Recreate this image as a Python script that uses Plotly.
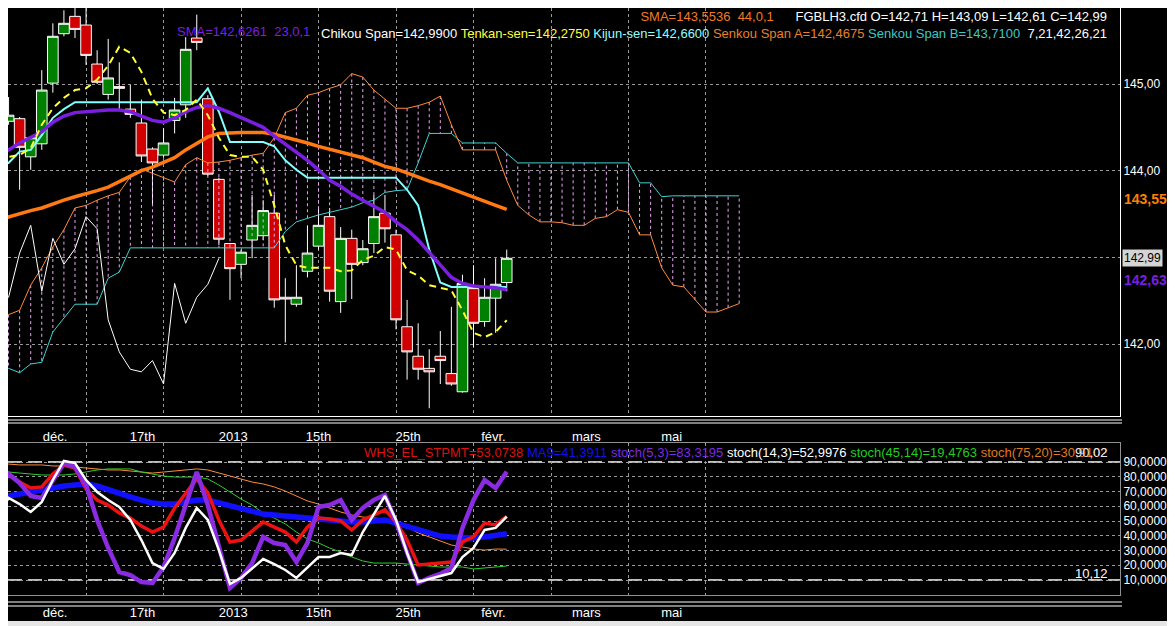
import plotly.graph_objects as go

# ---- FGBLH3 daily bars (index 0 = left edge of the screen) ----
opens = [144.47, 144.57, 144.60, 144.16, 144.31, 145.01, 145.58, 145.78, 145.68, 145.23,
         144.88, 144.97, 144.71, 144.55, 144.25, 144.18, 144.58, 144.76, 145.53, 144.83,
         143.90, 143.16, 142.92, 143.20, 143.25, 143.51, 142.54, 142.46, 142.84, 143.13,
         143.47, 142.49, 143.22, 142.94, 143.16, 143.51, 143.26, 142.20, 141.86, 141.72,
         141.86, 141.66, 141.45, 142.64, 142.26, 142.53, 142.71]
highs = [144.70, 144.85, 144.62, 144.40, 145.16, 145.70, 145.85, 146.00, 145.93, 145.39,
         145.52, 145.25, 144.99, 144.82, 144.27, 144.49, 144.84, 145.54, 145.80, 144.87,
         143.92, 143.16, 143.09, 143.72, 143.66, 143.72, 142.76, 142.91, 143.37, 143.58,
         143.57, 143.35, 143.32, 143.20, 143.72, 143.72, 143.32, 142.51, 142.24, 141.94,
         142.15, 142.43, 142.80, 142.91, 142.76, 142.99, 143.09]
lows = [144.41, 144.53, 143.78, 144.01, 144.24, 144.90, 145.55, 145.53, 145.22, 145.00,
        144.82, 144.70, 144.61, 144.10, 143.60, 144.15, 144.43, 144.61, 145.39, 143.94,
        143.14, 142.51, 142.76, 142.99, 143.20, 142.42, 142.02, 142.43, 142.77, 143.09,
        142.49, 142.36, 142.52, 142.91, 143.05, 143.17, 142.17, 141.59, 141.59, 141.26,
        141.54, 141.52, 141.44, 141.96, 142.20, 142.13, 142.61]
closes = [144.62, 144.64, 144.27, 144.38, 144.93, 145.55, 145.70, 145.63, 145.33, 145.02,
          145.07, 144.95, 144.65, 144.17, 144.09, 144.32, 144.70, 145.40, 145.48, 143.96,
          143.21, 142.87, 143.06, 143.37, 143.54, 142.51, 142.52, 142.54, 143.05, 143.37,
          142.61, 143.22, 142.92, 143.10, 143.47, 143.33, 142.28, 141.91, 141.71, 141.68,
          141.81, 141.54, 142.70, 142.24, 142.54, 142.69, 142.99]

tenkan = [144.15, 144.16, 144.18, 144.26, 144.53, 144.72, 144.84, 144.93, 144.95, 145.05,
          145.21, 145.43, 145.36, 145.14, 144.83, 144.67, 144.64, 144.70, 144.82, 144.64,
          144.38, 144.18, 144.16, 144.16, 144.01, 143.60, 143.14, 142.91, 142.88, 142.88,
          142.88, 142.84, 142.85, 142.97, 143.02, 143.12, 143.09, 142.85, 142.79, 142.68,
          142.65, 142.62, 142.39, 142.13, 142.08, 142.14, 142.275]
kijun = [144.09, 144.09, 144.22, 144.24, 144.41, 144.61, 144.71, 144.79, 144.79, 144.79,
         144.79, 144.79, 144.79, 144.79, 144.79, 144.79, 144.79, 144.79, 144.79, 144.95,
         144.68, 144.33, 144.33, 144.33, 144.33, 144.28, 144.12, 144.01, 143.92, 143.92,
         143.92, 143.92, 143.92, 143.92, 143.92, 143.92, 143.92, 143.78, 143.60, 143.09,
         142.71, 142.66, 142.66, 142.66, 142.66, 142.66, 142.66]
sma23 = [144.19, 144.24, 144.32, 144.38, 144.45, 144.56, 144.63, 144.67, 144.68, 144.69,
         144.70, 144.70, 144.68, 144.63, 144.58, 144.56, 144.61, 144.68, 144.73, 144.75,
         144.72, 144.67, 144.61, 144.56, 144.50, 144.40, 144.31, 144.22, 144.12, 144.01,
         143.89, 143.82, 143.73, 143.66, 143.59, 143.52, 143.41, 143.32, 143.20, 143.06,
         142.91, 142.77, 142.70, 142.67, 142.66, 142.65, 142.6261]
sma44 = [143.43, 143.47, 143.50, 143.54, 143.57, 143.62, 143.66, 143.70, 143.73, 143.77,
         143.81, 143.87, 143.94, 144.00, 144.04, 144.09, 144.15, 144.24, 144.32, 144.39,
         144.43, 144.44, 144.44, 144.44, 144.44, 144.42, 144.39, 144.35, 144.32, 144.28,
         144.25, 144.22, 144.18, 144.15, 144.10, 144.05, 144.02, 143.97, 143.93, 143.88,
         143.84, 143.79, 143.74, 143.70, 143.65, 143.60, 143.5536]
# spans are plotted 21 bars ahead, so they run past the last candle
senkou_a = [142.30, 142.34, 142.39, 142.68, 142.88, 143.12, 143.32, 143.57, 143.60, 143.66,
            143.71, 143.75, 143.93, 144.02, 143.97, 143.92, 143.87, 144.07, 144.15, 144.09,
            144.10, 144.12, 144.15, 144.18, 144.20, 144.38, 144.67, 144.72, 144.87, 144.90,
            144.95, 144.99, 145.12, 145.08, 144.93, 144.82, 144.72, 144.72, 144.75, 144.79,
            144.86, 144.53, 144.24, 144.24, 144.24, 144.24, 143.89, 143.60, 143.49, 143.41,
            143.41, 143.40, 143.37, 143.37, 143.45, 143.47, 143.55, 143.52, 143.26, 143.26,
            142.88, 142.68, 142.66, 142.51, 142.37, 142.37, 142.42, 142.4675]
senkou_b = [141.72, 141.72, 141.67, 141.77, 141.79, 142.14, 142.30, 142.46, 142.46, 142.46,
            142.76, 142.83, 143.11, 143.11, 143.11, 143.11, 143.11, 143.11, 143.11, 143.11,
            143.11, 143.11, 143.11, 143.11, 143.11, 143.11, 143.30, 143.41, 143.45, 143.49,
            143.52, 143.55, 143.58, 143.63, 143.66, 143.75, 143.77, 143.78, 144.09, 144.43,
            144.43, 144.43, 144.32, 144.32, 144.32, 144.32, 144.20, 144.09, 144.09, 144.09,
            144.09, 144.09, 144.09, 144.09, 144.09, 144.09, 144.09, 144.09, 143.86, 143.86,
            143.70, 143.71, 143.71, 143.71, 143.71, 143.71, 143.71, 143.71]
chikou_shift = 26

# ---- oscillator panel ----
whs = [81.2, 81.2, 76.4, 72.4, 73.1, 81.9, 88.0, 85.9, 71.7, 64.2,
       60.8, 55.4, 52.0, 46.6, 42.5, 45.9, 58.8, 69.0, 78.5, 69.0,
       50.7, 35.8, 37.1, 43.2, 49.3, 45.9, 42.5, 35.8, 45.9, 52.0,
       51.4, 50.0, 43.9, 50.7, 54.1, 57.5, 49.3, 37.1, 20.2, 20.8,
       21.5, 22.2, 35.8, 39.2, 48.6, 47.3, 53.0738]
ma9 = [65.6, 66.9, 69.0, 70.3, 71.0, 72.4, 73.7, 74.4, 75.1, 73.7,
       71.0, 69.0, 66.3, 64.2, 62.2, 61.5, 61.5, 62.9, 64.2, 64.2,
       62.2, 60.2, 58.1, 56.1, 54.7, 54.1, 53.4, 52.0, 51.4, 50.7,
       50.0, 49.3, 49.3, 49.3, 50.0, 50.7, 48.6, 46.6, 44.6, 42.5,
       39.8, 39.2, 38.5, 38.5, 39.2, 40.5, 41.3911]
stoch_5_3 = [70.3, 81.9, 75.8, 67.0, 65.6, 77.8, 89.3, 86.6, 74.4, 50.7,
             31.7, 15.4, 13.4, 8.6, 8.0, 18.8, 38.5, 60.8, 83.2, 60.8,
             31.7, 4.6, 11.4, 21.5, 39.2, 35.1, 33.7, 22.2, 35.1, 59.5,
             60.8, 64.2, 50.7, 58.8, 64.2, 67.6, 49.3, 29.0, 8.0, 11.4,
             14.1, 18.1, 45.3, 64.2, 77.8, 72.4, 83.3195]
stoch_14_3 = [52.0, 65.6, 61.5, 56.1, 62.9, 77.8, 90.7, 89.3, 77.8, 69.7,
              64.2, 59.5, 50.7, 37.1, 21.5, 17.5, 28.3, 45.3, 58.8, 50.7,
              30.3, 7.3, 11.4, 18.1, 24.2, 20.8, 16.8, 11.4, 18.8, 25.6,
              25.6, 28.3, 26.9, 42.5, 54.7, 67.0, 50.7, 28.3, 8.6, 10.7,
              12.7, 14.7, 25.6, 31.7, 43.9, 45.3, 52.9976]
stoch_45_14 = [84.6, 83.2, 82.5, 81.9, 81.2, 81.2, 81.2, 81.9, 83.2, 84.6,
               85.3, 85.3, 85.3, 83.2, 81.9, 80.5, 79.8, 79.8, 79.8, 78.5,
               74.4, 69.7, 64.9, 60.8, 55.4, 52.0, 48.0, 42.5, 37.8, 35.1,
               31.7, 29.0, 25.6, 22.9, 21.5, 21.5, 21.5, 20.8, 20.2, 19.5,
               18.8, 18.8, 18.8, 17.5, 18.1, 18.8, 19.4763]
stoch_75_20 = [88.6, 88.6, 88.0, 88.0, 88.0, 87.3, 87.3, 86.6, 85.9, 85.3,
               84.6, 84.6, 83.9, 83.2, 82.5, 83.2, 83.9, 84.6, 85.3, 84.6,
               82.5, 80.5, 78.5, 76.4, 75.1, 73.1, 70.3, 67.0, 63.6, 61.5,
               58.8, 56.1, 54.1, 52.7, 52.0, 51.4, 50.0, 45.9, 41.9, 39.2,
               36.4, 33.7, 32.4, 31.0, 30.3, 31.0, 30.9102]

# ---- axis labels ----
x_labels = ['déc.', '17th', '2013', '15th', '25th', 'févr.', 'mars', 'mai']
x_label_pos = [5.2, 13.1, 21.3, 29.0, 37.1, 44.8, 53.2, 60.9]
week_lines = [1, 8, 15, 22, 29, 36, 43, 50, 57, 64]
price_ticks = [142, 143, 144, 145]
osc_ticks = [10, 20, 30, 40, 50, 60, 70, 80, 90]

FONT = 'Liberation Sans, Arial, sans-serif'
OFF = 8  # the page body adds 8px of margin around the figure
W, H = 1175 - OFF, 626 - OFF


def fr(v, d):
    return f'{v:.{d}f}'.replace('.', ',')


# screen pixel -> paper fraction
def px(x):
    return (x - OFF) / W


def py(y):
    return 1 - (y - OFF) / H


bars = list(range(len(closes)))
ahead = list(range(len(senkou_a)))

# cloud hatching: one dashed vertical per bar between the two spans
hx, hy = [], []
for i, (a, b) in enumerate(zip(senkou_a, senkou_b)):
    hx += [i, i, None]
    hy += [a, b, None]

fig = go.Figure()
fig.add_trace(go.Scatter(x=hx, y=hy, mode='lines', line=dict(color='#e8a8f0', width=1, dash='3px,3px')))
fig.add_trace(go.Scatter(x=ahead, y=senkou_b, mode='lines', line=dict(color='#3fd3d3', width=1)))
fig.add_trace(go.Scatter(x=ahead, y=senkou_a, mode='lines', line=dict(color='#ff8a3d', width=1)))
fig.add_trace(go.Scatter(x=bars[:len(closes) - chikou_shift], y=closes[chikou_shift:], mode='lines',
                         line=dict(color='white', width=1)))
fig.add_trace(go.Candlestick(x=bars, open=opens, high=highs, low=lows, close=closes,
                             increasing=dict(fillcolor='#008000', line=dict(color='white', width=1)),
                             decreasing=dict(fillcolor='#d00000', line=dict(color='white', width=1)),
                             whiskerwidth=0))
fig.add_trace(go.Scatter(x=bars, y=sma44, mode='lines', line=dict(color='#ff7a12', width=3.5)))
fig.add_trace(go.Scatter(x=bars, y=kijun, mode='lines', line=dict(color='#80ffff', width=2)))
fig.add_trace(go.Scatter(x=bars, y=sma23, mode='lines', line=dict(color='#7a1fe0', width=3.5)))
fig.add_trace(go.Scatter(x=bars, y=tenkan, mode='lines', line=dict(color='#ffff33', width=2, dash='7px,5px')))

# lower panel
for vals, col, w in [(stoch_75_20, '#ff8a3d', 1), (stoch_45_14, '#2ecc2e', 1), (ma9, '#1010ff', 5.5),
                     (whs, '#ee1111', 3.5), (stoch_5_3, '#8a2be2', 4.5), (stoch_14_3, 'white', 2.5)]:
    fig.add_trace(go.Scatter(x=bars, y=vals, mode='lines', line=dict(color=col, width=w),
                             xaxis='x2', yaxis='y2'))

# one bar = 11.07 px, bar 0 sits at screen x = -2.5
xr = [(OFF + 2.5) / 11.07, (1120 + 2.5) / 11.07]
grid = dict(showgrid=True, gridcolor='#9a9a9a', griddash='3px,3px', gridwidth=1)
xcommon = dict(range=xr, domain=[0, px(1120)], tickmode='array', tickvals=x_label_pos, ticktext=x_labels,
               showgrid=False, zeroline=False, ticks='outside', tickcolor='rgba(0,0,0,0)',
               tickfont=dict(color='white', size=13, family=FONT), fixedrange=True,
               minor=dict(tickvals=week_lines, showgrid=True, gridcolor='#9a9a9a', griddash='3px,3px'))

# price scale: 145 at y=84, 86.7 px per point
fig.update_layout(
    width=W, height=H, margin=dict(l=0, r=0, t=0, b=0),
    paper_bgcolor='black', plot_bgcolor='black', showlegend=False,
    font=dict(family=FONT, color='white', size=13),
    boxgap=0.04, boxgroupgap=0,
    xaxis=dict(xcommon, anchor='y', ticklen=8, showline=True, linecolor='white', linewidth=1,
               rangeslider=dict(visible=False)),
    xaxis2=dict(xcommon, anchor='y2', ticklen=5, showline=True, linecolor='#909090', mirror=True),
    yaxis=dict(domain=[py(416), 1], range=[145 - (416 - 84) / 86.7, 145 + (84 - OFF) / 86.7],
               side='right', tickmode='array',
               tickvals=price_ticks, ticktext=['142,00', '', '144,00', '145,00'],
               tickfont=dict(size=12, color='white'), showline=True, linecolor='white',
               zeroline=False, fixedrange=True, **grid),
    yaxis2=dict(domain=[py(595), py(443)], range=[-0.17, 102.88], side='right', anchor='x2',
                tickmode='array', tickvals=osc_ticks, ticktext=[fr(v, 4) for v in osc_ticks],
                tickfont=dict(size=12, color='white'), showline=True, linecolor='#909090', mirror=True,
                zeroline=False, fixedrange=True, **grid),
)

# frame lines between / under the panels, and the 10/90 levels
for yline in [420, 423, 602, 606]:
    fig.add_shape(type='line', xref='paper', yref='paper', x0=0, x1=px(1122), y0=py(yline), y1=py(yline),
                  line=dict(color='white', width=1))
for lvl in [10, 90]:
    fig.add_shape(type='line', xref='paper', yref='y2', x0=0, x1=px(1120), y0=lvl, y1=lvl, layer='below',
                  line=dict(color='white', width=1.5, dash='14px,6px'))
fig.add_shape(type='rect', xref='paper', yref='paper', x0=0, x1=1, y0=0, y1=py(621),
              fillcolor='#e6e6e6', line=dict(width=0))

# header: two right-aligned rows in one block, purple SMA tag on the second row
ann = []
sp = '\u00a0' * 6
head = (f"<span style='color:#f07a28'>SMA={fr(sma44[-1], 4)}\u00a0 44,0,1</span>{sp}"
        f"<span style='color:#ffffff'>FGBLH3.cfd O={fr(opens[-1], 2)} H={fr(highs[-1], 2)} "
        f"L={fr(lows[-1], 2)} C={fr(closes[-1], 2)}</span><br>"
        f"<span style='color:#ffffff'>Chikou Span={fr(closes[-1], 4)}</span> "
        f"<span style='color:#ffff40'>Tenkan-sen={fr(tenkan[-1], 4)}</span> "
        f"<span style='color:#90ffff'>Kijun-sen={fr(kijun[-1], 4)}</span> "
        f"<span style='color:#e8802a'>Senkou Span A={fr(senkou_a[-1], 4)}</span> "
        f"<span style='color:#3cc8c8'>Senkou Span B={fr(senkou_b[-1], 4)}</span>\u00a0 "
        f"<span style='color:#ffffff'>7,21,42,26,21</span>")
ann.append(dict(x=px(1108), y=1, xanchor='right', yanchor='top', align='right', borderpad=0,
                text=head, font=dict(size=13)))
ann.append(dict(x=px(176), y=py(31), xanchor='left', yanchor='middle', borderpad=0,
                text=f'SMA={fr(sma23[-1], 4)}\u00a0 23,0,1', font=dict(color='#7a1fe0', size=13)))

# right-hand value tags
ann.append(dict(x=px(1122), y=sma44[-1], yref='y', xanchor='left', yanchor='bottom',
                text=f'<b>{fr(sma44[-1], 2)}</b>', font=dict(color='#ff7f00', size=14)))
ann.append(dict(x=px(1122), y=sma23[-1], yref='y', xanchor='left', yanchor='bottom',
                text=f'<b>{fr(sma23[-1], 2)}</b>', font=dict(color='#7a1fe0', size=14)))
ann.append(dict(x=px(1122), y=closes[-1], yref='y', xanchor='left', yanchor='middle',
                text=fr(closes[-1], 2), bgcolor='#d4d4d4', borderpad=1, font=dict(color='black', size=12)))

# oscillator legend (the 90,02 level tag sits on top of its end, as on screen)
line3 = (f"<span style='color:#dd1111'>WHS_EL_STPMT={fr(whs[-1], 4)}</span> "
         f"<span style='color:#1010ee'>MA9={fr(ma9[-1], 4)}</span> "
         f"<span style='color:#7b2be0'>stoch(5,3)={fr(stoch_5_3[-1], 4)}</span> "
         f"<span style='color:#ffffff'>stoch(14,3)={fr(stoch_14_3[-1], 4)}</span> "
         f"<span style='color:#22cc22'>stoch(45,14)={fr(stoch_45_14[-1], 4)}</span> "
         f"<span style='color:#e07820'>stoch(75,20)={fr(stoch_75_20[-1], 4)}</span>")
ann.append(dict(x=px(1110), y=py(452), xanchor='right', yanchor='middle', text=line3))
ann.append(dict(x=px(1110), y=py(452), xanchor='right', yanchor='middle', text='90,02',
                font=dict(color='#e8e8e8')))
ann.append(dict(x=px(1110), y=py(573), xanchor='right', yanchor='middle', text='10,12',
                font=dict(color='white')))

for a in ann:
    a.setdefault('xref', 'paper')
    a.setdefault('yref', 'paper')
    a['showarrow'] = False
    fig.add_annotation(**a)

fig.write_html("out.html")
